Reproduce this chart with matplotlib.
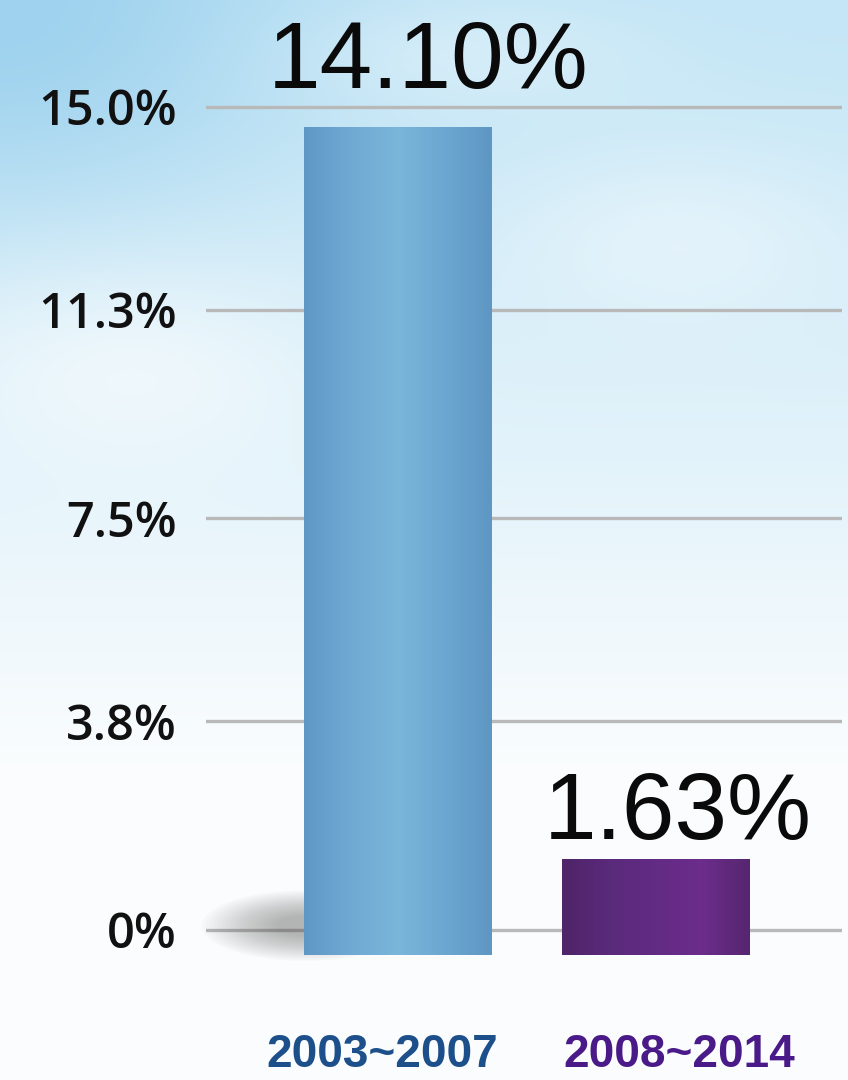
import numpy as np
import matplotlib.pyplot as plt
from matplotlib.colors import to_rgb, LinearSegmentedColormap
from matplotlib.patches import Ellipse

periods = ["2003~2007", "2008~2014"]
growth = [14.10, 1.63]
value_labels = ["14.10%", "1.63%"]
tick_values = [0, 3.8, 7.5, 11.3, 15.0]
tick_labels = ["0%", "3.8%", "7.5%", "11.3%", "15.0%"]

bar_shades = [["#5f98c4", "#70aad4", "#7ab5da", "#6ca7d1", "#5e97c3"],
              ["#4f2468", "#5a2a7b", "#622b84", "#6c2d8b", "#562670"]]
label_colors = ["#1d4f8a", "#4a1a88"]
label_offsets = [(-11.5, -99), (17, -99)]
value_offsets = [(21.6, 28), (16, 14.4)]

fig = plt.figure(figsize=(8.48, 10.8), dpi=100)

# sky background
bg = fig.add_axes([0, 0, 1, 1])
bg.axis("off")
yy, xx = np.mgrid[0:1:540j, 0:1:424j]
sky = np.array(to_rgb("#c4e6f6"))
deep = np.array(to_rgb("#9ed2ee"))
white = np.array(to_rgb("#fbfdfe"))
t = np.clip(yy / 0.72, 0, 1)[..., None] ** 1.1
img = sky * (1 - t) + white * t
corner = np.exp(-((xx / 0.35) ** 2 + (yy / 0.2) ** 2))[..., None]
img = img * (1 - corner) + deep * corner
for cx, cy, rx, ry, a in [(0.15, 0.34, 0.25, 0.1, 0.6), (0.8, 0.22, 0.2, 0.08, 0.4),
                          (0.55, 0.05, 0.2, 0.05, 0.3)]:
    cloud = np.exp(-(((xx - cx) / rx) ** 2 + ((yy - cy) / ry) ** 2))[..., None]
    img = img * (1 - a * cloud) + white * a * cloud
bg.imshow(img, extent=[0, 1, 0, 1], aspect="auto", origin="upper")

# grid / tick axes
ax = fig.add_axes([206 / 848, 79 / 1080, 636 / 848, 949 / 1080])
ax.set_facecolor("none")
ax.set_xlim(-0.744, 1.721)
ax.set_ylim(-1.3, 16.0)
ax.set_yticks(tick_values)
ax.set_yticklabels(tick_labels, fontsize=35, color="#111111",
                   family="Open Sans", fontweight="semibold")
ax.tick_params(axis="y", length=0, pad=21)
ax.set_xticks([])
ax.grid(axis="y", color="#b9b9b9", linewidth=2.4)
ax.set_axisbelow(True)
for s in ax.spines.values():
    s.set_visible(False)

# bars sit on their own scale, like the picture
bx = ax.twinx()
bx.set_ylim(-0.783, 15.38)
bx.set_yticks([])
for s in bx.spines.values():
    s.set_visible(False)

x = np.arange(len(periods))

# soft shadow at the foot of the tall bar
for k in range(20):
    bx.add_patch(Ellipse((-0.36, 0.5), 0.8 - k * 0.03, 1.2 - k * 0.045,
                         color="#505050", alpha=0.025, lw=0, zorder=1, clip_on=False))

bars = bx.bar(x, growth, width=0.725, color="none", zorder=2)
for i, b in enumerate(bars):
    cmap = LinearSegmentedColormap.from_list("b%d" % i, bar_shades[i])
    grad = np.linspace(0, 1, 64).reshape(1, -1)
    im = bx.imshow(grad, cmap=cmap, aspect="auto", zorder=2,
                   extent=[b.get_x(), b.get_x() + b.get_width(), 0, b.get_height()])
    im.set_clip_path(b)
    bx.annotate(value_labels[i], (b.get_x() + b.get_width() / 2, b.get_height()),
                xytext=value_offsets[i], textcoords="offset points",
                ha="center", va="baseline", fontsize=68,
                family="Liberation Sans", color="#0a0a0a")
bx.set_xlim(-0.744, 1.721)

for i, p in enumerate(periods):
    ax.annotate(p, (x[i], 0), xytext=label_offsets[i], textcoords="offset points",
                ha="center", va="baseline", fontsize=33, fontweight="bold",
                family="Liberation Sans", color=label_colors[i])

plt.savefig("out.png", dpi=100)
